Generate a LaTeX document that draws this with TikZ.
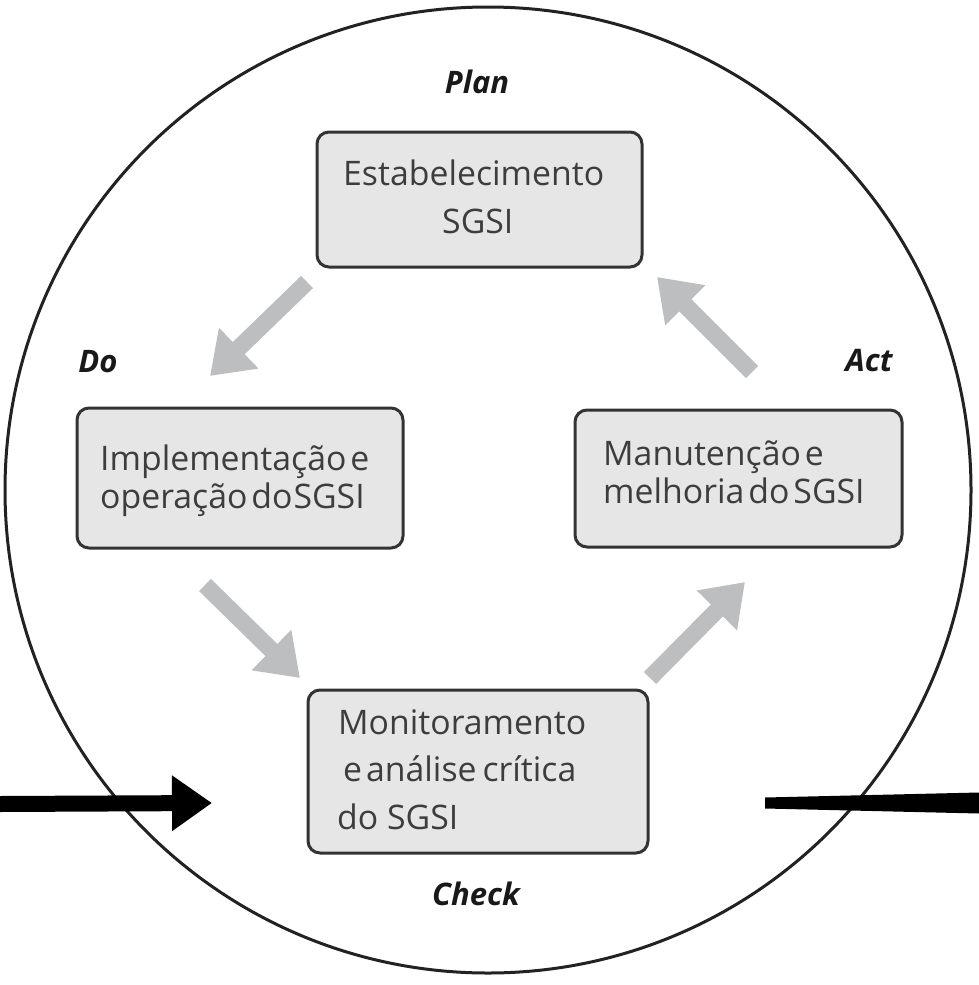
\documentclass[tikz,border=0pt]{standalone}
\usepackage{fontspec}
\setmainfont{Open Sans}
\newfontfamily\stagefont[WordSpace=0.45]{Open Sans}
\usetikzlibrary{arrows.meta}
\definecolor{boxfill}{HTML}{E6E6E6}
\definecolor{boxline}{HTML}{333333}
\definecolor{flow}{HTML}{BCBEC0}
\definecolor{ink}{HTML}{3D3D3D}
\definecolor{rim}{HTML}{222222}
\begin{document}
\begin{tikzpicture}[x=1pt,y=-1pt,
  stage/.style={draw=boxline, fill=boxfill, line width=3pt, rounded corners=12pt, inner sep=0pt},
  boxtext/.style={anchor=base west, inner sep=0pt, text=ink, font=\fontsize{33.8}{40}\selectfont},
  tighttext/.style={boxtext, font=\stagefont\fontsize{33.8}{40}\selectfont},
  phase/.style={anchor=base, inner sep=0pt, text=black!90, font=\fontsize{31}{36}\selectfont\bfseries\itshape},
  flowarrow/.style={draw=flow, line width=17pt, line cap=butt, -{Triangle[width=54pt,length=40pt]}},
  ioarrow/.style={draw=black, line width=16pt, line cap=butt, -{Triangle[width=53pt,length=40pt]}},
]
\useasboundingbox (0,0) rectangle (979,985);

% outer cycle
\node[circle, draw=rim, line width=3pt, minimum size=966pt, inner sep=0pt] (ring) at (488,490) {};

% PDCA stages
\node[stage, minimum width=325pt, minimum height=135pt] (plan) at (479.5,199.5) {};
\node[stage, minimum width=326pt, minimum height=140pt] (do) at (240,478) {};
\node[stage, minimum width=327pt, minimum height=137pt] (act) at (738.5,478.5) {};
\node[stage, minimum width=340pt, minimum height=163pt] (check) at (478,771.5) {};

% stage texts
\node[boxtext] (plan1) at (343,185) {Estabelecimento};
\node[boxtext] (plan2) at (442,233) {SGSI};
\node[tighttext] (do1) at (100,470) {Implementação e};
\node[tighttext] (do2) at (100,508) {operação do\kern-3pt\ SGSI};
\node[tighttext] (act1) at (603,465) {Manutenção e};
\node[tighttext] (act2) at (603,503) {melhoria do SGSI};
\node[boxtext] (check1) at (338,734) {Monitoramento};
\node[tighttext] (check2) at (343,781) {e análise\kern2pt\ crítica};
\node[boxtext] (check3) at (337,829) {do SGSI};

% phase labels
\node[phase] (lplan) at (477,93) {Plan};
\node[phase] (ldo) at (98,372) {Do};
\node[phase] (lact) at (869,371) {Act};
\node[phase] (lcheck) at (476,905) {Check};

% cycle arrows
\coordinate (a1s) at (307,282);
\coordinate (a1e) at (210,376);
\coordinate (a2s) at (205,585);
\coordinate (a2e) at (300,678);
\coordinate (a3s) at (650,678);
\coordinate (a3e) at (745,582);
\coordinate (a4s) at (752,372);
\coordinate (a4e) at (657,277);
\draw[flowarrow] (a1s) -- (a1e);
\draw[flowarrow] (a2s) -- (a2e);
\draw[flowarrow] (a3s) -- (a3e);
\draw[flowarrow] (a4s) -- (a4e);

% input and output
\coordinate (inS) at (0,804);
\coordinate (inE) at (212,803);
\draw[ioarrow] (inS) -- (inE);
\coordinate (outA) at (765,797.5);
\coordinate (outB) at (979,792.5);
\coordinate (outC) at (979,813.5);
\coordinate (outD) at (765,808.5);
\fill[black] (outA) -- (outB) -- (outC) -- (outD) -- cycle;
\end{tikzpicture}
\end{document}
